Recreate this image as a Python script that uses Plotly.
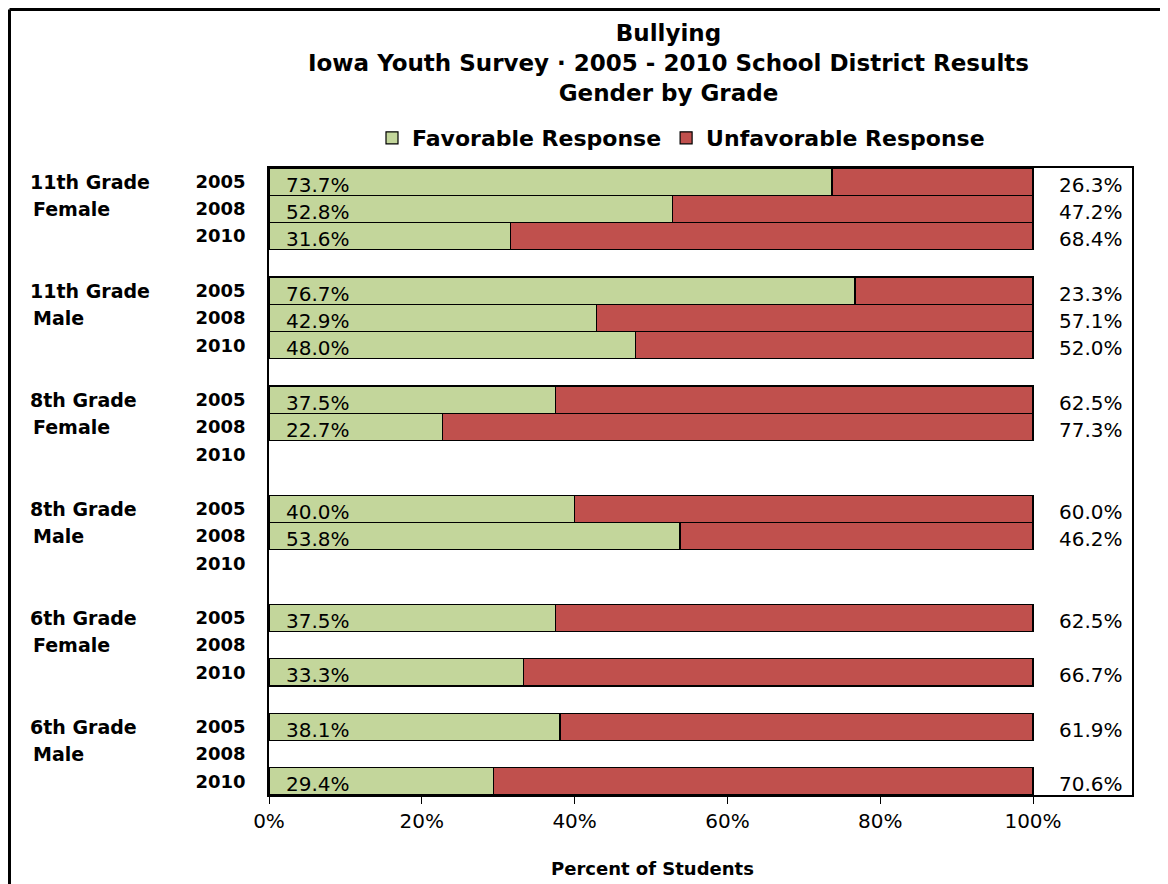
import plotly.graph_objects as go

groups = ["11th Grade", "11th Grade", "8th Grade", "8th Grade", "6th Grade", "6th Grade"]
genders = ["Female", "Male", "Female", "Male", "Female", "Male"]
years = ["2005", "2008", "2010"]

favorable = [
    [73.7, 52.8, 31.6],
    [76.7, 42.9, 48.0],
    [37.5, 22.7, None],
    [40.0, 53.8, None],
    [37.5, None, 33.3],
    [38.1, None, 29.4],
]
unfavorable = [
    [26.3, 47.2, 68.4],
    [23.3, 57.1, 52.0],
    [62.5, 77.3, None],
    [60.0, 46.2, None],
    [62.5, None, 66.7],
    [61.9, None, 70.6],
]

x_ticks = [0, 20, 40, 60, 80, 100]
x_tick_text = ["0%", "20%", "40%", "60%", "80%", "100%"]

GREEN = "#C3D69B"
RED = "#C0504D"
BOLD = "DejaVu Sans"

# page body has an 8px margin; work in screen pixels and shift
O = 8
W, H = 1168, 884
L, R, T, B = 269 - O, 1132 - O, 168 - O, 795 - O
def pxx(px):
    return (px - O - L) / (R - L)
def pxy(py):
    return (B - (py - O)) / (B - T)

ypos, fav_x, unf_x, ytext = [], [], [], []
for g in range(len(groups)):
    for k, yr in enumerate(years):
        ypos.append(g * 4 + k)
        ytext.append(yr)
        fav_x.append(favorable[g][k])
        unf_x.append(unfavorable[g][k])

fig = go.Figure()
fig.add_trace(go.Bar(
    y=ypos, x=[v / 100 if v is not None else None for v in fav_x],
    orientation="h", name="Favorable Response", width=1,
    marker=dict(color=GREEN, line=dict(color="black", width=1.2)),
))
fig.add_trace(go.Bar(
    y=ypos, x=[v / 100 if v is not None else None for v in unf_x],
    orientation="h", name="Unfavorable Response", width=1,
    marker=dict(color=RED, line=dict(color="black", width=1.2)),
))

annotations = []
for y, fv, uv in zip(ypos, fav_x, unf_x):
    if fv is not None:
        annotations.append(dict(x=0.02, y=y, xref="x", yref="y", text=f"{fv:.1f}%",
                                showarrow=False, xanchor="left", yanchor="middle", yshift=-3,
                                font=dict(family="DejaVu Sans", size=20, color="black")))
    if uv is not None:
        annotations.append(dict(x=1.1204, y=y, xref="x", yref="y", text=f"{uv:.1f}%",
                                showarrow=False, xanchor="right", yanchor="middle", yshift=-3,
                                font=dict(family="DejaVu Sans", size=20, color="black")))

for g in range(len(groups)):
    annotations.append(dict(x=pxx(28), y=g * 4, xref="paper", yref="y", text=groups[g],
                            showarrow=False, xanchor="left", yanchor="middle",
                            font=dict(family=BOLD, size=19, color="black", weight="bold")))
    annotations.append(dict(x=pxx(31), y=g * 4 + 1, xref="paper", yref="y", text=genders[g],
                            showarrow=False, xanchor="left", yanchor="middle",
                            font=dict(family=BOLD, size=19, color="black", weight="bold")))

annotations.append(dict(x=pxx(668), y=pxy(63), xref="paper", yref="paper",
                        text="Bullying<br>Iowa Youth Survey · 2005 - 2010 School District Results<br>Gender by Grade",
                        showarrow=False, xanchor="center", yanchor="middle",
                        font=dict(family=BOLD, size=23, color="black", weight="bold")))
annotations.append(dict(x=pxx(652), y=pxy(868), xref="paper", yref="paper",
                        text="Percent of Students", showarrow=False,
                        xanchor="center", yanchor="middle",
                        font=dict(family=BOLD, size=18, color="black", weight="bold")))

shapes = [
    dict(type="line", xref="paper", yref="paper", x0=pxx(9.5), x1=pxx(9.5), y0=pxy(9.5), y1=pxy(900),
         line=dict(color="black", width=3)),
    dict(type="line", xref="paper", yref="paper", x0=pxx(9.5), x1=pxx(1180), y0=pxy(9.5), y1=pxy(9.5),
         line=dict(color="black", width=3)),
]

fig.update_layout(
    width=W, height=H,
    barmode="stack",
    paper_bgcolor="white", plot_bgcolor="white",
    margin=dict(l=L, r=W - R, t=T, b=H - B, pad=0),
    showlegend=True,
    legend=dict(orientation="h", traceorder="normal", x=pxx(681), y=pxy(138),
                xanchor="center", yanchor="middle",
                font=dict(family=BOLD, size=22, color="black", weight="bold"),
                bgcolor="rgba(0,0,0,0)"),
    annotations=annotations,
    shapes=shapes,
    xaxis=dict(range=[0, (R - L) / 764], tickvals=[v / 100 for v in x_ticks], ticktext=x_tick_text,
               showgrid=False, zeroline=False, showline=True, mirror=True,
               linecolor="black", linewidth=1.5, ticks="outside", ticklen=7, tickcolor="black",
               tickfont=dict(family="DejaVu Sans", size=20, color="black")),
    yaxis=dict(range=[22.5, -0.5], tickvals=ypos, ticktext=ytext,
               showgrid=False, zeroline=False, showline=True, mirror=True,
               linecolor="black", linewidth=1.5, ticks="", ticklabelstandoff=18,
               tickfont=dict(family=BOLD, size=18, color="black", weight="bold")),
)

fig.write_html("out.html")
